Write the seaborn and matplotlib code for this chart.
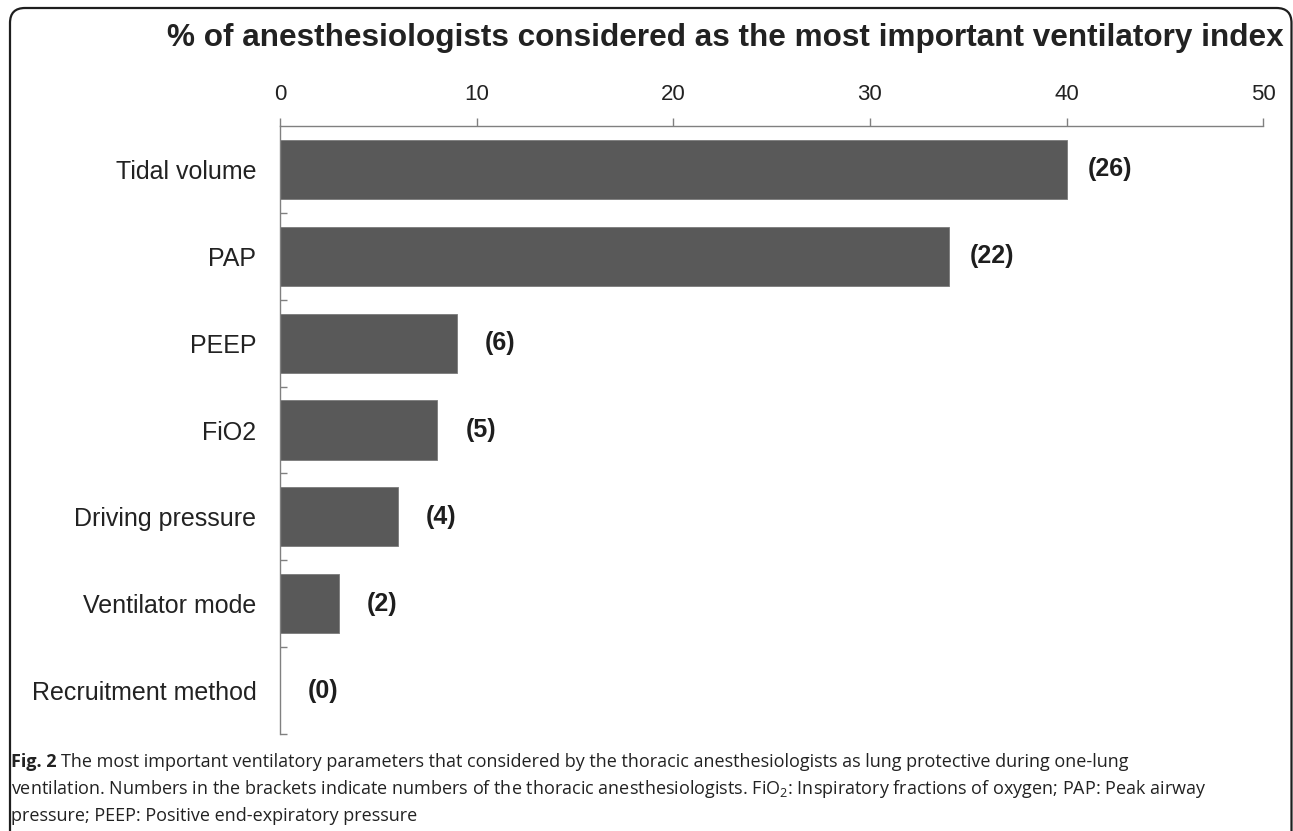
import matplotlib
matplotlib.use("Agg")
import matplotlib.pyplot as plt
from matplotlib.patches import FancyBboxPatch
import numpy as np
import pandas as pd
import seaborn as sns

# ------------------------------------------------------------------
# data (percent of anesthesiologists, counts in brackets)
# ------------------------------------------------------------------
categories = ["Tidal volume", "PAP", "PEEP", "FiO2", "Driving pressure",
              "Ventilator mode", "Recruitment method"]
percent = [40, 34, 9, 8, 6, 3, 0]
counts = [26, 22, 6, 5, 4, 2, 0]
x_ticks = [0, 10, 20, 30, 40, 50]

df = pd.DataFrame({"index": categories, "percent": percent, "n": counts})

sns.set_theme(style="white")
plt.rcParams["font.family"] = ["Liberation Sans", "DejaVu Sans"]
plt.rcParams["mathtext.fontset"] = "custom"
plt.rcParams["mathtext.rm"] = "Open Sans"

fig = plt.figure(figsize=(12.93, 8.31), dpi=100)
ax = fig.add_axes([0.2166, 0.1167, 0.977 - 0.2166, 0.8484 - 0.1167])

sns.barplot(data=df, x="percent", y="index", orient="h", color="#595959",
            saturation=1, width=0.68, edgecolor="#7a7a7a", linewidth=0.6, ax=ax)

# count labels in brackets
for i, row in df.iterrows():
    ax.text(row["percent"] + 2.2, i, f"({row['n']})", ha="center", va="center",
            fontsize=18, fontweight="bold", color="#1e1e1e")

ax.set_xlim(0, 50)
ax.set_ylim(len(categories) - 0.5, -0.5)
ax.set_xticks(x_ticks)
ax.xaxis.tick_top()
ax.xaxis.set_label_position("top")
ax.set_xlabel("")
ax.set_ylabel("")

ax.tick_params(axis="x", direction="out", length=6, width=1, color="#808080",
               pad=9, labelsize=16, labelcolor="#222222")
ax.tick_params(axis="y", which="major", length=0, pad=17, labelsize=18,
               labelcolor="#222222")
ax.set_yticks(np.arange(len(categories)) + 0.5, minor=True)
ax.tick_params(axis="y", which="minor", direction="in", length=5, width=1,
               color="#808080", left=True)

for side in ["right", "bottom"]:
    ax.spines[side].set_visible(False)
for side in ["top", "left"]:
    ax.spines[side].set_color("#808080")
    ax.spines[side].set_linewidth(1)

fig.text(725 / 1293, 1 - 38 / 831,
         "% of anesthesiologists considered as the most important ventilatory index",
         ha="center", va="center", fontsize=22.7, fontweight="bold", color="#222222")

# caption
cap_font = dict(family="Open Sans", fontsize=13, color="#222222", va="center")
fig.canvas.draw()
renderer = fig.canvas.get_renderer()
t = fig.text(11 / 1293, 1 - 762 / 831, "Fig. 2", fontweight="bold", **cap_font)
w = t.get_window_extent(renderer).width
fig.text((11 + w + 4) / 1293, 1 - 762 / 831,
         "The most important ventilatory parameters that considered by the thoracic "
         "anesthesiologists as lung protective during one-lung", **cap_font)
fig.text(11 / 1293, 1 - 789 / 831,
         "ventilation. Numbers in the brackets indicate numbers of the thoracic "
         "anesthesiologists. FiO$_2$: Inspiratory fractions of oxygen; PAP: Peak airway",
         **cap_font)
fig.text(11 / 1293, 1 - 816 / 831,
         "pressure; PEEP: Positive end-expiratory pressure", **cap_font)

# rounded frame around the figure
frame = FancyBboxPatch((10 / 100, -0.5), (1291.5 - 10) / 100, 8.23 + 0.5,
                       boxstyle="round,pad=0,rounding_size=0.15",
                       transform=fig.dpi_scale_trans, fill=False,
                       edgecolor="#1e1e1e", linewidth=1.6, clip_on=False)
fig.patches.append(frame)

fig.savefig("out.png", dpi=100)
